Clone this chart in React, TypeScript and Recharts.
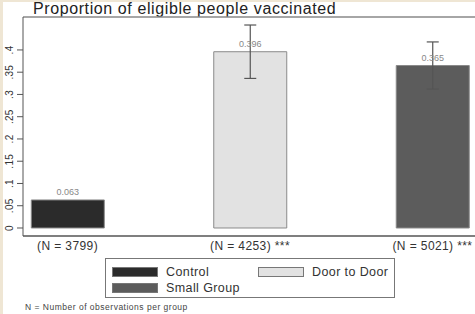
import React from "react";
import {
  BarChart,
  Bar,
  Cell,
  XAxis,
  YAxis,
  ErrorBar,
  LabelList,
  ReferenceLine,
} from "recharts";

// groups, values and 95% CI half-widths
const groups = ["Control", "Door to Door", "Small Group"];
const proportions = [0.063, 0.396, 0.365];
const ciHalf = [null, 0.06, 0.053];
const nLabels = ["(N = 3799)", "(N = 4253) ***", "(N = 5021) ***"];
const yTicks = [0, 0.05, 0.1, 0.15, 0.2, 0.25, 0.3, 0.35, 0.4];
const colors = ["#2b2b2b", "#e2e2e2", "#5c5c5c"];

const yDomain = [-0.018, 0.474];
const xDomain = [-0.244, 2.244];

const data = groups.map((g, i) => ({
  pos: i,
  name: g,
  value: proportions[i],
  err: ciHalf[i],
}));

const fmtY = (v: number) => (v === 0 ? "0" : String(v).replace(/^0/, ""));

const YTick = (props: any) => {
  const { x, y, payload } = props;
  return (
    <text
      x={x}
      y={y}
      transform={`rotate(-90, ${x}, ${y})`}
      textAnchor="middle"
      fontSize={10}
      letterSpacing={0.3}
      fill="#333"
      fontFamily="Liberation Sans, Arial, sans-serif"
    >
      {fmtY(payload.value)}
    </text>
  );
};

const Swatch = ({ color }: { color: string }) => (
  <span
    style={{
      display: "inline-block",
      width: 46,
      height: 10,
      background: color,
      border: "1px solid #777",
      boxSizing: "border-box",
      marginRight: 8,
      verticalAlign: "middle",
    }}
  />
);

export default function App() {
  const font = "Liberation Sans, Arial, sans-serif";
  return (
    <div
      style={{
        position: "absolute",
        left: 0,
        top: 0,
        width: 475,
        height: 314,
        overflow: "hidden",
        background: "#fff",
        fontFamily: font,
      }}
    >
      <div
        style={{
          position: "absolute",
          left: 33,
          top: 1,
          fontSize: 16,
          lineHeight: "16px",
          letterSpacing: 0.6,
          color: "#222",
          whiteSpace: "nowrap",
        }}
      >
        Proportion of eligible people vaccinated
      </div>

      <div style={{ position: "absolute", left: 0, top: 0 }}>
        <BarChart
          width={478}
          height={314}
          data={data}
          margin={{ top: 17, right: 1, bottom: 48, left: 0 }}
        >
          <XAxis
            dataKey="pos"
            type="number"
            domain={xDomain}
            allowDataOverflow
            ticks={[0, 1, 2]}
            interval={0}
            tickFormatter={(v: number) => nLabels[v]}
            tickLine={false}
            tickSize={0}
            tickMargin={5}
            height={30}
            axisLine={{ stroke: "#555", strokeWidth: 1.5 }}
            tick={{ fontSize: 12, fill: "#333", fontFamily: font, letterSpacing: 0.4 }}
          />
          <YAxis
            type="number"
            domain={yDomain}
            allowDataOverflow
            ticks={yTicks}
            interval={0}
            width={23}
            tickSize={6}
            tickMargin={4}
            axisLine={{ stroke: "#555" }}
            tickLine={{ stroke: "#555" }}
            tick={<YTick />}
          />
          <ReferenceLine y={yDomain[1]} stroke="#888" strokeWidth={1.5} />
          <Bar dataKey="value" barSize={73} isAnimationActive={false}>
            {data.map((d, i) => (
              <Cell key={d.name} fill={colors[i]} stroke="#8a8a8a" strokeWidth={1} />
            ))}
            <LabelList
              dataKey="value"
              position="top"
              offset={5}
              formatter={(v: any) => Number(v).toFixed(3)}
              style={{ fontSize: 9, fill: "#888", fontFamily: font }}
            />
            <ErrorBar dataKey="err" width={6} stroke="#555" strokeWidth={1.2} />
          </Bar>
        </BarChart>
      </div>

      <div
        style={{
          position: "absolute",
          left: 105,
          top: 258,
          width: 290,
          height: 40,
          border: "1px solid #777",
          boxSizing: "border-box",
          fontSize: 12.5,
          color: "#333",
        }}
      >
        <div style={{ position: "absolute", left: 6, top: 5, whiteSpace: "nowrap" }}>
          <Swatch color={colors[0]} />
          <span style={{ verticalAlign: "middle", letterSpacing: 0.4 }}>{groups[0]}</span>
        </div>
        <div style={{ position: "absolute", left: 152, top: 5, whiteSpace: "nowrap" }}>
          <Swatch color={colors[1]} />
          <span style={{ verticalAlign: "middle", letterSpacing: 0.4 }}>{groups[1]}</span>
        </div>
        <div style={{ position: "absolute", left: 6, top: 21, whiteSpace: "nowrap" }}>
          <Swatch color={colors[2]} />
          <span style={{ verticalAlign: "middle", letterSpacing: 0.4 }}>{groups[2]}</span>
        </div>
      </div>

      <div
        style={{
          position: "absolute",
          left: 25,
          top: 302,
          fontSize: 8.5,
          letterSpacing: 0.5,
          color: "#444",
          whiteSpace: "nowrap",
        }}
      >
        N = Number of observations per group
      </div>

      <div style={{ position: "absolute", left: 0, top: 0, width: 3, height: 314, background: "#efe6d4" }} />
      <div style={{ position: "absolute", left: 0, top: 0, width: 475, height: 2, background: "#efe6d4" }} />
    </div>
  );
}
